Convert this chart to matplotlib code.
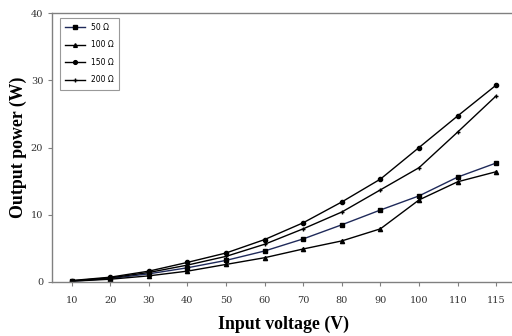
import numpy as np
import matplotlib.pyplot as plt

voltages = ['10', '20', '30', '40', '50', '60', '70', '80', '90', '100', '110', '115']
p50 = [0.1, 0.5, 1.2, 2.1, 3.2, 4.6, 6.4, 8.5, 10.7, 12.8, 15.6, 17.7]
p100 = [0.1, 0.4, 0.9, 1.6, 2.6, 3.6, 4.9, 6.1, 7.9, 12.2, 14.9, 16.4]
p150 = [0.2, 0.7, 1.6, 2.9, 4.3, 6.3, 8.8, 11.9, 15.3, 20.0, 24.7, 29.3]
p200 = [0.15, 0.6, 1.4, 2.5, 3.8, 5.6, 7.9, 10.4, 13.7, 17.0, 22.3, 27.7]

fig = plt.figure(figsize=(5.12, 3.36), dpi=100)
ax = fig.add_axes([0.102, 0.161, 0.905, 0.800])

x = np.arange(len(voltages))
ax.plot(x, p50, color='#1f2a5a', lw=1.0, marker='s', ms=3, mfc='black', mec='black', label='50 Ω')
ax.plot(x, p100, color='black', lw=1.0, marker='^', ms=3, label='100 Ω')
ax.plot(x, p150, color='black', lw=1.0, marker='o', ms=3, label='150 Ω')
ax.plot(x, p200, color='black', lw=1.0, marker='+', ms=3.5, mew=1.0, label='200 Ω')

ax.set_xlim(-0.5, 11.5)
ax.set_ylim(0, 40)
ax.set_xticks(x)
ax.set_xticklabels(voltages)
ax.set_yticks([0, 10, 20, 30, 40])

for s in ['left', 'bottom', 'top']:
    ax.spines[s].set_color('#808080')
    ax.spines[s].set_linewidth(1.0)
ax.spines['right'].set_visible(False)
ax.tick_params(axis='both', direction='out', length=3, color='#808080',
               labelsize=7, labelcolor='#333333')
ax.tick_params(axis='x', pad=7)
for lab in ax.get_xticklabels() + ax.get_yticklabels():
    lab.set_family('DejaVu Serif')

ax.set_xlabel('Input voltage (V)', family='Liberation Serif', fontweight='bold', fontsize=12.8, labelpad=8)
ax.set_ylabel('Output power (W)', family='Liberation Serif', fontweight='bold', fontsize=12.8, labelpad=3)

leg = ax.legend(loc='upper left', fontsize=5.5, frameon=True, fancybox=False,
                edgecolor='#808080', handlelength=2.6, labelspacing=1.1,
                borderpad=0.7, markerscale=0.9, bbox_to_anchor=(0.008, 0.997))
leg.get_frame().set_linewidth(0.8)

plt.savefig('out.png', dpi=100)
